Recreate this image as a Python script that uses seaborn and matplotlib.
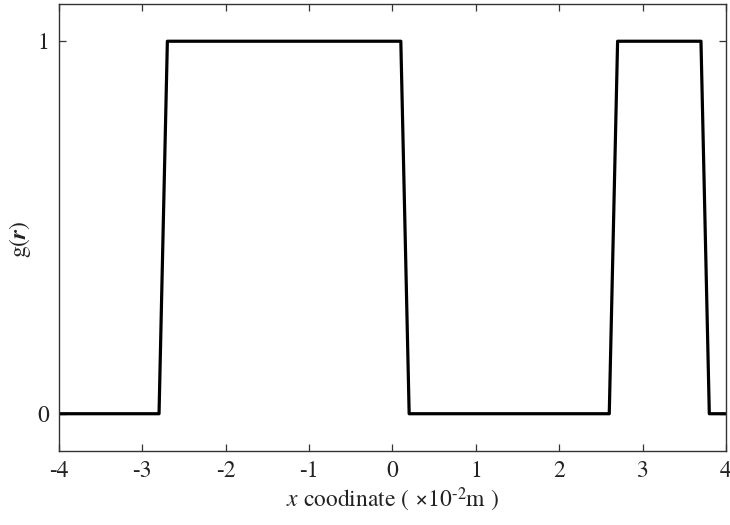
import matplotlib
matplotlib.use("Agg")
import matplotlib.pyplot as plt
import seaborn as sns
import pandas as pd

# Data (breakpoints of the step profile)
x_vals = [-4.0, -2.8, -2.7, 0.1, 0.2, 2.6, 2.7, 3.7, 3.8, 4.0]
g_vals = [0, 0, 1, 1, 0, 0, 1, 1, 0, 0]
x_ticks = [-4, -3, -2, -1, 0, 1, 2, 3, 4]
x_tick_labels = ["-4", "-3", "-2", "-1", "0", "1", "2", "3", "4"]
y_ticks = [0, 1]
y_tick_labels = ["0", "1"]

sns.set_style("ticks")
plt.rcParams["font.family"] = ["TeX Gyre Termes", "Liberation Serif", "DejaVu Serif"]
plt.rcParams["mathtext.fontset"] = "custom"
plt.rcParams["mathtext.rm"] = "TeX Gyre Termes"
plt.rcParams["mathtext.it"] = "TeX Gyre Termes:italic"
plt.rcParams["mathtext.bf"] = "TeX Gyre Termes:bold"
plt.rcParams["mathtext.bfit"] = "TeX Gyre Termes:italic:bold"

df = pd.DataFrame({"x": x_vals, "g": g_vals})

fig = plt.figure(figsize=(7.3, 5.25), dpi=100)
ax = fig.add_axes([0.0808, 0.141, 0.9137, 0.8514])
sns.lineplot(data=df, x="x", y="g", ax=ax, color="black", linewidth=2.3,
             sort=False, estimator=None)

ax.set_xlim(-4, 4)
ax.set_ylim(-0.1, 1.1)
ax.set_xticks(x_ticks)
ax.set_xticklabels(x_tick_labels)
ax.set_yticks(y_ticks)
ax.set_yticklabels(y_tick_labels)

for s in ax.spines.values():
    s.set_visible(True)
    s.set_color("#333333")
    s.set_linewidth(1.0)
ax.tick_params(direction="in", length=5, width=0.9, color="#333333",
               top=True, right=True, labelsize=17, labelcolor="#222222", pad=7)

ax.set_xlabel("$x$ coodinate ( \u00d710$^{\\text{-2}}$m )", fontsize=17, color="#222222", labelpad=2)
ax.set_ylabel("g($\\bfit{r}$)", fontsize=17, color="#222222")
ax.yaxis.set_label_coords(-0.039, 0.474)

fig.savefig("out.png", dpi=100)
